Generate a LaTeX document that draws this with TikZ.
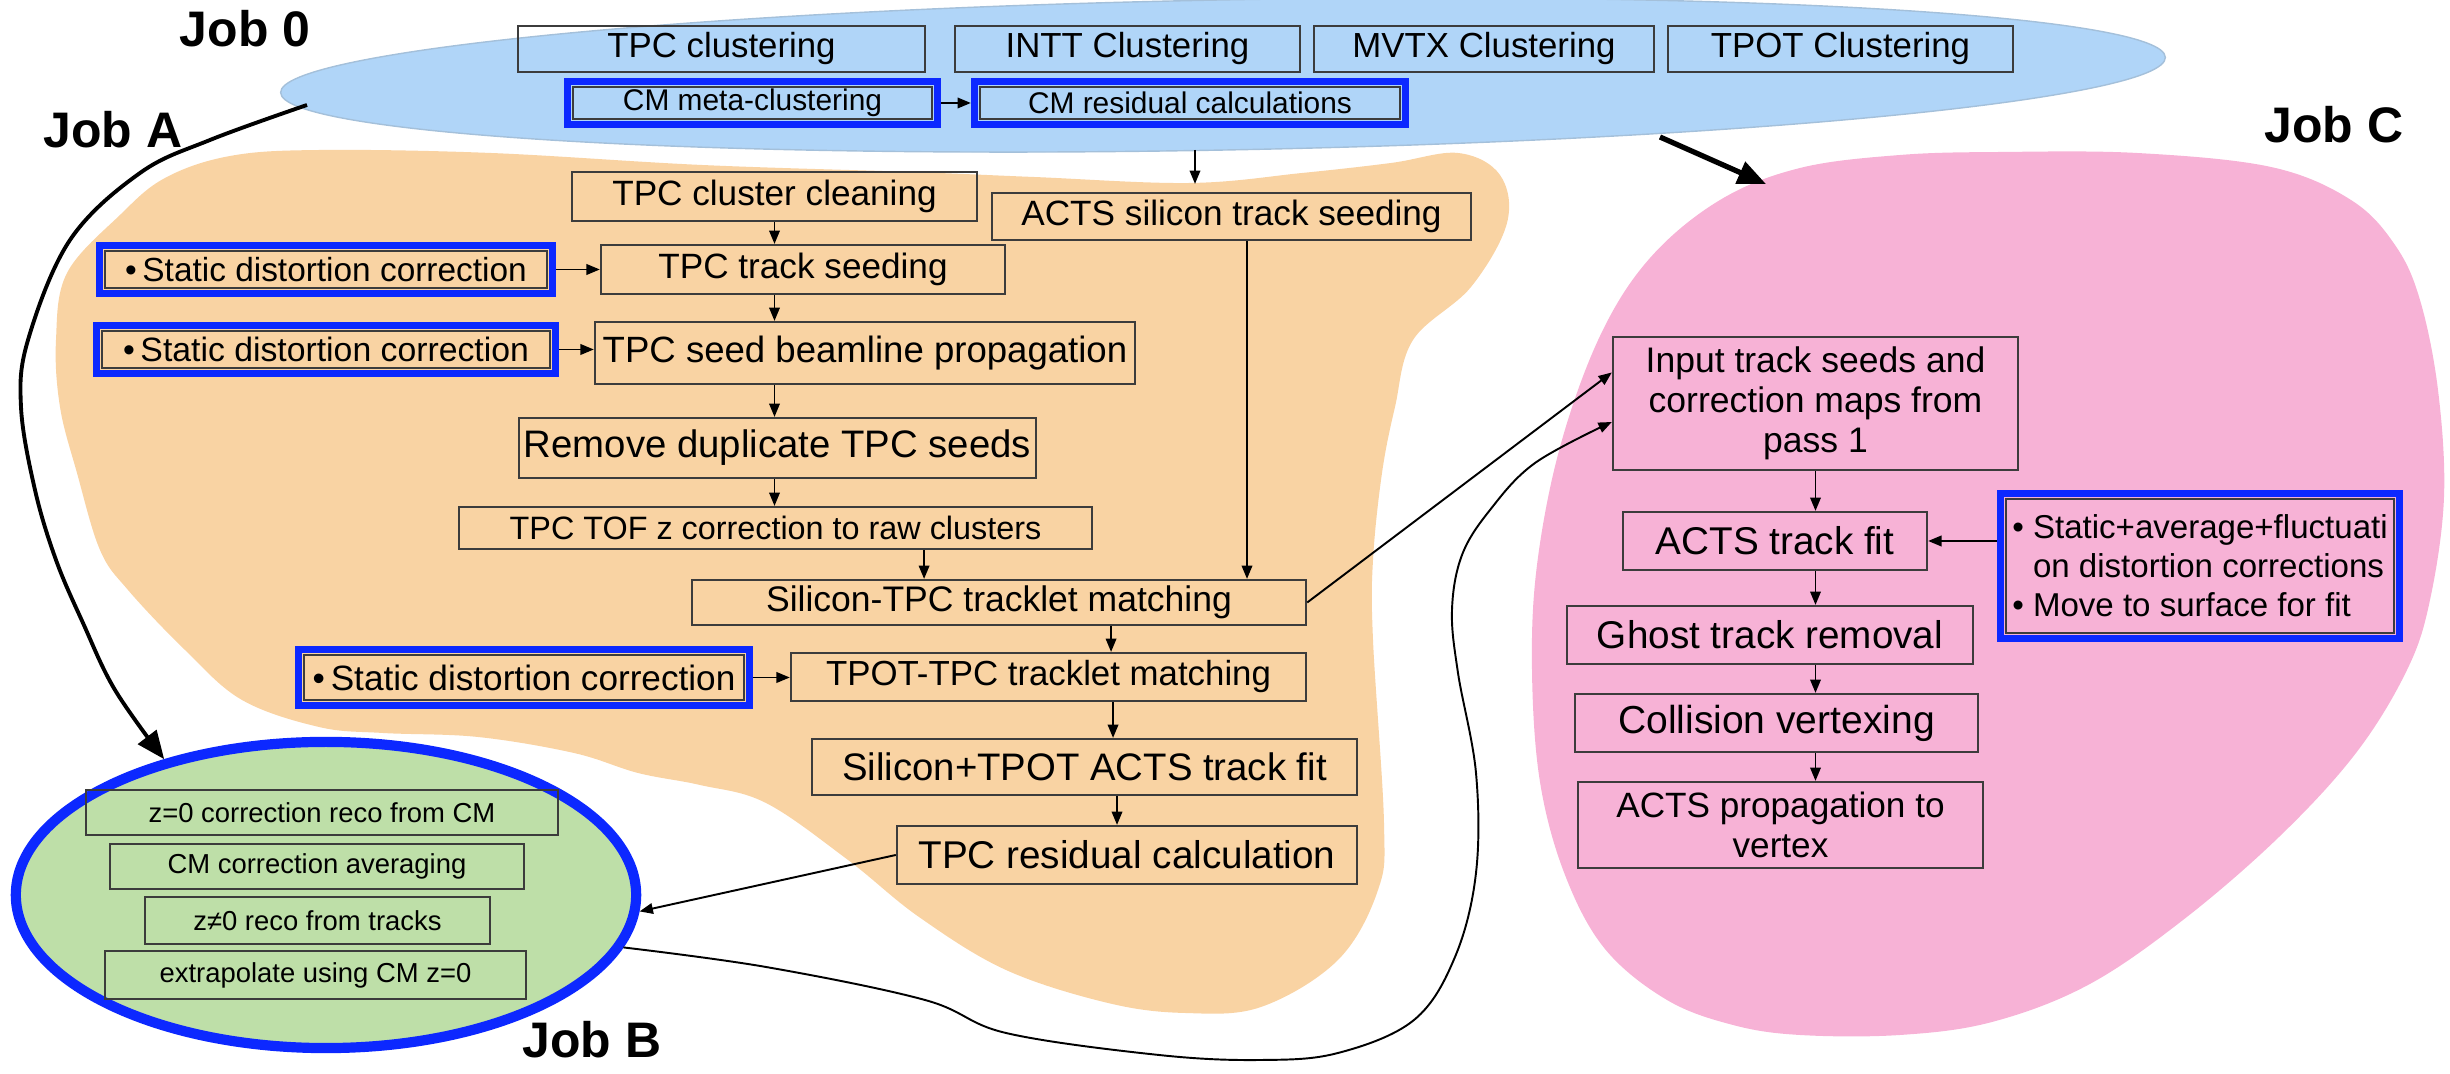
\documentclass[tikz,border=0pt]{standalone}
\usepackage{fontspec}
\setmainfont{Liberation Sans}
\usetikzlibrary{shapes.geometric,arrows.meta}
\definecolor{ellblue}{RGB}{176,213,248}
\definecolor{peach}{RGB}{249,211,163}
\definecolor{pinkc}{RGB}{247,178,214}
\definecolor{greenc}{RGB}{190,223,168}
\definecolor{bluef}{RGB}{12,40,255}
\definecolor{edgec}{RGB}{60,60,60}
\newcommand\innerbox[1]{\draw[ibox] ([shift={(9,-9)}]#1.south west) rectangle ([shift={(-9,9)}]#1.north east);}
\begin{document}
\begin{tikzpicture}[x=0.01cm,y=-0.01cm,
  box/.style={draw=edgec, line width=0.6pt, inner sep=0pt, align=center},
  bbox/.style={draw=bluef, line width=2pt, inner sep=0pt, align=center},
  ibox/.style={draw=edgec, line width=0.5pt},
  arr/.style={-{Triangle[length=3.8pt,width=3pt]}, line width=0.55pt},
  bigarr/.style={-{Triangle[length=8pt,width=6.5pt]}, line width=1.1pt},
  joblabel/.style={font=\fontsize{14.2}{16}\selectfont\bfseries, inner sep=0pt}]
\useasboundingbox (0,0) rectangle (2450,1074);

% regions
\fill[peach] plot[smooth cycle, tension=0.6] coordinates {
 (120,215) (165,178) (230,156) (320,150) (491,153) (702,165) (912,172) (1034,177)
 (1190,183) (1302,173) (1391,163) (1458,153) (1500,175) (1507,223) (1471,287)
 (1413,340) (1395,407) (1382,473) (1373,560) (1373,640) (1384,823) (1378,890)
 (1338,960) (1261,1007) (1185,1013) (1108,1003) (1006,970) (919,917) (848,860)
 (766,803) (700,785) (638,773) (574,753) (478,737) (383,733) (319,727) (242,700)
 (185,650) (128,590) (100,550) (77,473) (60,407) (56,340) (67,273)};
\fill[pinkc] plot[smooth cycle, tension=0.6] coordinates {
 (1537,565) (1560,447) (1600,336) (1650,258) (1720,200) (1800,168) (1900,155)
 (2000,152) (2137,153) (2271,167) (2351,200) (2395,245) (2420,300) (2438,390)
 (2444,497) (2430,600) (2407,670) (2356,753) (2279,837) (2183,920) (2088,985)
 (1992,1022) (1900,1035) (1800,1035) (1733,1025) (1667,1000) (1605,949)
 (1565,875) (1540,782) (1532,670)};
\node[ellipse, fill=ellblue, draw=ellblue!75!gray, line width=0.4pt, minimum width=18.84cm,
  minimum height=1.5cm, rotate=1.07, inner sep=0pt] (job0) at (1223,75) {};
\node[ellipse, fill=greenc, draw=bluef, line width=2.9pt, minimum width=6.2cm,
  minimum height=3.06cm, inner sep=0pt] (jobB) at (326,895) {};

% labels
\node[joblabel] (lab0) at (245,29) {Job 0};
\node[joblabel] (labA) at (113,130) {Job A};
\node[joblabel] (labB) at (592,1040) {Job B};
\node[joblabel] (labC) at (2334,125) {Job C};

% Job 0 boxes
\node[box, minimum width=4.07cm, minimum height=0.46cm, font=\fontsize{9.9}{12}\selectfont] (tpcclu) at (721.5,49) {TPC clustering};
\node[box, minimum width=3.45cm, minimum height=0.46cm, font=\fontsize{9.9}{12}\selectfont] (intt) at (1127.5,49) {INTT Clustering};
\node[box, minimum width=3.40cm, minimum height=0.46cm, font=\fontsize{9.9}{12}\selectfont] (mvtx) at (1484,49) {MVTX Clustering};
\node[box, minimum width=3.45cm, minimum height=0.46cm, font=\fontsize{9.9}{12}\selectfont] (tpot) at (1840.5,49) {TPOT Clustering};
\node[bbox, minimum width=3.70cm, minimum height=0.43cm, font=\fontsize{8.5}{10}\selectfont] (cmmeta) at (752.5,103) {CM meta-clustering};
\node[bbox, minimum width=4.31cm, minimum height=0.43cm, font=\fontsize{8.5}{10}\selectfont] (cmres) at (1190,103) {CM residual calculations};
\innerbox{cmmeta}
\innerbox{cmres}

% Job A boxes
\node[box, minimum width=4.05cm, minimum height=0.49cm, font=\fontsize{10}{12}\selectfont] (clean) at (774.5,196.5) {TPC cluster cleaning};
\node[box, minimum width=4.79cm, minimum height=0.47cm, font=\fontsize{10}{12}\selectfont] (acts) at (1231.5,216.5) {ACTS silicon track seeding};
\node[bbox, minimum width=4.53cm, minimum height=0.48cm, font=\fontsize{9.5}{11}\selectfont] (st1) at (326,269.5) {•\,Static distortion correction};
\node[box, minimum width=4.04cm, minimum height=0.49cm, font=\fontsize{10}{12}\selectfont] (seed) at (803,269.5) {TPC track seeding};
\node[bbox, minimum width=4.59cm, minimum height=0.48cm, font=\fontsize{9.6}{11}\selectfont] (st2) at (326,349.5) {•\,Static distortion correction};
\node[box, minimum width=5.40cm, minimum height=0.62cm, font=\fontsize{10.4}{12}\selectfont] (beam) at (865,353) {TPC seed beamline propagation};
\node[box, minimum width=5.17cm, minimum height=0.60cm, font=\fontsize{10.9}{12}\selectfont] (rem) at (777.5,448) {Remove duplicate TPC seeds};
\node[box, minimum width=6.33cm, minimum height=0.42cm, font=\fontsize{9.2}{11}\selectfont] (tof) at (775.5,528) {TPC TOF z correction to raw clusters};
\node[box, minimum width=6.14cm, minimum height=0.45cm, font=\fontsize{10.1}{12}\selectfont] (sitpc) at (999,602.5) {Silicon-TPC tracklet matching};
\node[bbox, minimum width=4.51cm, minimum height=0.56cm, font=\fontsize{10}{12}\selectfont] (st3) at (524,677.5) {•\,Static distortion correction};
\node[box, minimum width=5.15cm, minimum height=0.48cm, font=\fontsize{9.9}{12}\selectfont] (tpottpc) at (1048.5,677) {TPOT-TPC tracklet matching};
\node[box, minimum width=5.45cm, minimum height=0.56cm, font=\fontsize{10.9}{12}\selectfont] (sifit) at (1084.5,767) {Silicon+TPOT ACTS track fit};
\node[box, minimum width=4.60cm, minimum height=0.58cm, font=\fontsize{11}{12}\selectfont] (res) at (1127,855) {TPC residual calculation};
\innerbox{st1}
\innerbox{st2}
\innerbox{st3}

% Job C boxes
\node[box, minimum width=4.05cm, minimum height=1.33cm, font=\fontsize{10.1}{11.4}\selectfont] (input) at (1815.5,403.5) {Input track seeds and\\correction maps from\\pass 1};
\node[box, minimum width=3.04cm, minimum height=0.58cm, font=\fontsize{11}{12}\selectfont] (fit) at (1775,541) {ACTS track fit};
\node[bbox, minimum width=3.99cm, minimum height=1.45cm, align=left, font=\fontsize{9.4}{11.1}\selectfont] (st4) at (2200,566) {•\ Static+average+fluctuati\\\phantom{•\ }on distortion corrections\\•\ Move to surface for fit};
\node[box, minimum width=4.06cm, minimum height=0.58cm, font=\fontsize{11}{12}\selectfont] (ghost) at (1770,635) {Ghost track removal};
\node[box, minimum width=4.03cm, minimum height=0.58cm, font=\fontsize{11.1}{12}\selectfont] (coll) at (1776.5,723) {Collision vertexing};
\node[box, minimum width=4.05cm, minimum height=0.86cm, font=\fontsize{10}{11.4}\selectfont] (prop) at (1780.5,825) {ACTS propagation to\\vertex};
\innerbox{st4}

% Job B boxes
\node[box, minimum width=4.72cm, minimum height=0.45cm, font=\fontsize{7.8}{9}\selectfont] (gb1) at (322,812.5) {z=0 correction reco from CM};
\node[box, minimum width=4.14cm, minimum height=0.45cm, font=\fontsize{7.8}{9}\selectfont] (gb2) at (317,866.5) {CM correction averaging};
\node[box, minimum width=3.45cm, minimum height=0.47cm, font=\fontsize{7.8}{9}\selectfont] (gb3) at (317.5,920.5) {z≠0 reco from tracks};
\node[box, minimum width=4.21cm, minimum height=0.48cm, font=\fontsize{7.8}{9}\selectfont] (gb4) at (315.5,975) {extrapolate using CM z=0};

% free ends
\coordinate (j0b) at (1195,150);
\coordinate (jAs) at (307,105);
\coordinate (jCs) at (1660,137);
\coordinate (jCe) at (1766,184);

% connectors
\draw[arr] (cmmeta.east) -- (cmres.west);
\draw[arr, shorten >=0.08cm] (j0b) -- (j0b |- acts.north);
\draw[arr] (clean.south) -- (clean.south |- seed.north);
\draw[arr] (clean.south |- seed.south) -- (clean.south |- beam.north);
\draw[arr] (clean.south |- beam.south) -- (clean.south |- rem.north);
\draw[arr] (clean.south |- rem.south) -- (clean.south |- tof.north);
\draw[arr] ([xshift=1.485cm]tof.south) -- ([xshift=1.485cm]tof.south |- sitpc.north);
\draw[arr] ([xshift=0.155cm]acts.south) -- ([xshift=0.155cm]acts.south |- sitpc.north);
\draw[arr] ([xshift=1.12cm]sitpc.south) -- ([xshift=1.12cm]sitpc.south |- tpottpc.north);
\draw[arr] ([xshift=0.645cm]tpottpc.south) -- ([xshift=0.645cm]tpottpc.south |- sifit.north);
\draw[arr] ([xshift=0.325cm]sifit.south) -- ([xshift=0.325cm]sifit.south |- res.north);
\draw[arr] (st1.east) -- (st1.east -| seed.west);
\draw[arr] (st2.east) -- (st2.east -| beam.west);
\draw[arr] (st3.east) -- (st3.east -| tpottpc.west);
\draw[arr] (res.west) -- (jobB.-3);
\draw[arr] (sitpc.east) -- ([yshift=0.31cm]input.west);
\draw[arr] plot[smooth, tension=0.6] coordinates {(jobB.-10) (766,967) (925,1000) (1006,1033) (1159,1055) (1261,1060) (1338,1053) (1414,1020) (1455,957) (1476,873) (1476,773) (1458,673) (1452,610) (1462,555) (1490,510) (1535,463) ([yshift=-0.185cm]input.west)};
\draw[arr] (input.south) -- (input.south |- fit.north);
\draw[arr] (input.south |- fit.south) -- (input.south |- ghost.north);
\draw[arr] (input.south |- ghost.south) -- (input.south |- coll.north);
\draw[arr] (input.south |- coll.south) -- (input.south |- prop.north);
\draw[arr] (st4.west |- fit.east) -- (fit.east);
\draw[bigarr] plot[smooth, tension=0.6] coordinates {(jAs) (210,140) (140,173) (70,240) (28,340) (21,407) (35,490) (56,560) (83,623) (115,690) (jobB.140)};
\draw[bigarr, line width=1.5pt] (jCs) -- (jCe);
\end{tikzpicture}
\end{document}
